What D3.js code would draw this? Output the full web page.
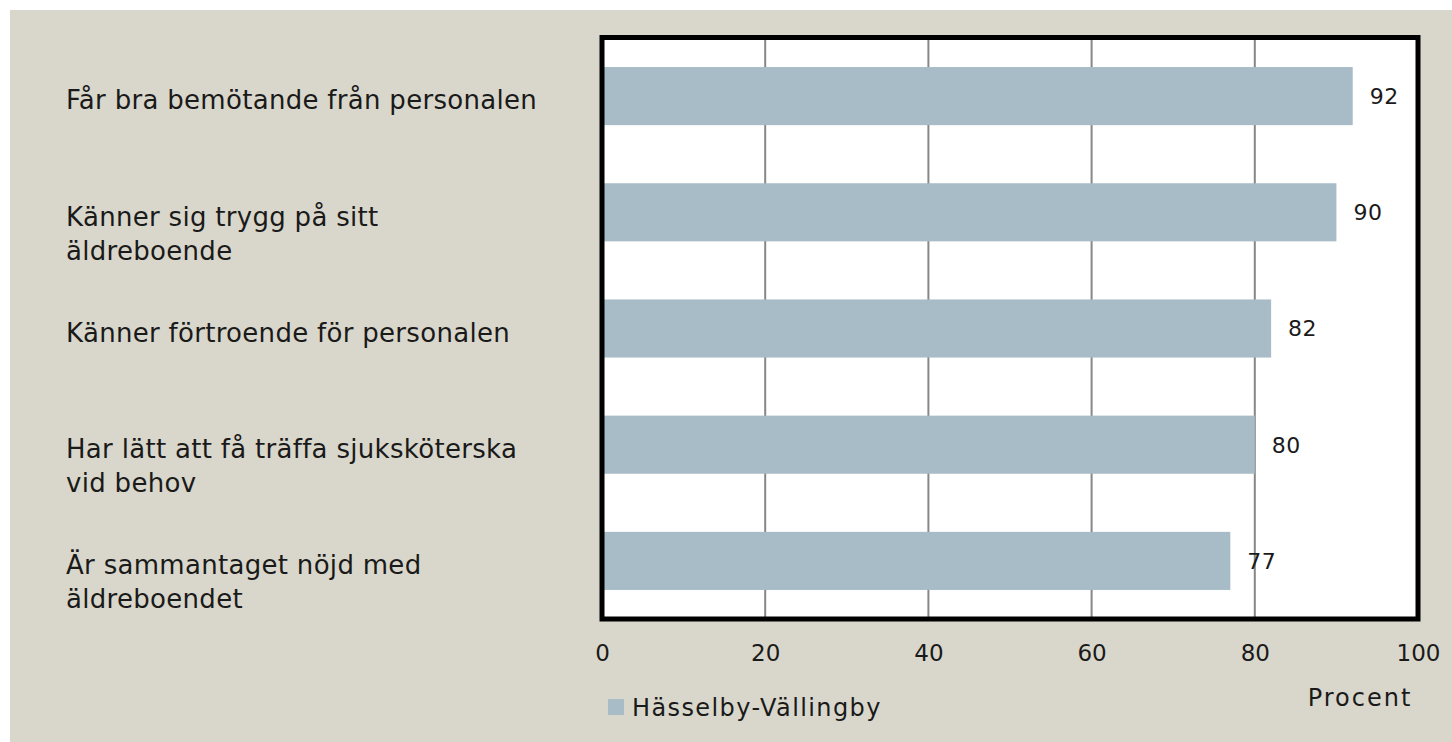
<!doctype html>
<html>
<head>
<meta charset="utf-8">
<script src="https://cdn.jsdelivr.net/npm/d3@7"></script>
<style>
  html, body { margin: 0; padding: 0; background: #fff; }
  svg { display: block; font-family: "DejaVu Sans", sans-serif; }
</style>
</head>
<body>
<script>
// data
const categories = [
  ["Får bra bemötande från personalen"],
  ["Känner sig trygg på sitt", "äldreboende"],
  ["Känner förtroende för personalen"],
  ["Har lätt att få träffa sjuksköterska", "vid behov"],
  ["Är sammantaget nöjd med", "äldreboendet"]
]
const values = [92, 90, 82, 80, 77]
const xTicks = [0, 20, 40, 60, 80, 100]
const seriesName = "Hässelby-Vällingby"
const axisTitle = "Procent"

const W = 1452, H = 742
const plot = { left: 602, top: 38, right: 1418, bottom: 619 }
const BAR = '#a7bcc7'
const TEXT = '#1a1a1a'
const FS = 22

const svg = d3.select('body').append('svg')
  .attr('width', W).attr('height', H)

// panel background
svg.append('rect')
  .attr('x', 10).attr('y', 10)
  .attr('width', W - 10).attr('height', H - 10)
  .attr('fill', '#d9d7cb')

const x = d3.scaleLinear().domain([0, 100]).range([plot.left, plot.right])
const y = d3.scaleBand().domain(d3.range(values.length))
  .range([plot.top, plot.bottom]).paddingInner(0.5).paddingOuter(0.25)

// plot area
svg.append('rect')
  .attr('x', plot.left).attr('y', plot.top)
  .attr('width', plot.right - plot.left).attr('height', plot.bottom - plot.top)
  .attr('fill', '#fff')

// gridlines
svg.append('g').selectAll('line')
  .data(xTicks.slice(1, -1))
  .join('line')
  .attr('x1', d => x(d)).attr('x2', d => x(d))
  .attr('y1', plot.top).attr('y2', plot.bottom)
  .attr('stroke', '#878787').attr('stroke-width', 2)

// bars
svg.append('g').selectAll('rect')
  .data(values)
  .join('rect')
  .attr('x', x(0))
  .attr('y', (d, i) => y(i))
  .attr('width', d => x(d) - x(0))
  .attr('height', y.bandwidth())
  .attr('fill', BAR)

// value labels
svg.append('g').selectAll('text')
  .data(values)
  .join('text')
  .attr('x', d => x(d) + 17)
  .attr('y', (d, i) => y(i) + y.bandwidth() / 2)
  .attr('dy', '0.36em')
  .attr('font-size', FS)
  .attr('letter-spacing', 0.5)
  .attr('fill', TEXT)
  .text(d => d)

// frame
svg.append('rect')
  .attr('x', plot.left).attr('y', plot.top - 0.5)
  .attr('width', plot.right - plot.left).attr('height', plot.bottom - plot.top + 0.5)
  .attr('fill', 'none')
  .attr('stroke', '#000').attr('stroke-width', 5)

// category labels
const cat = svg.append('g').selectAll('text')
  .data(categories)
  .join('text')
  .attr('x', 66)
  .attr('y', (d, i) => y(i) + y.bandwidth() / 2 + 4)
  .attr('font-size', 26)
  .attr('letter-spacing', 0.3)
  .attr('fill', TEXT)
cat.selectAll('tspan')
  .data(d => d)
  .join('tspan')
  .attr('x', 66)
  .attr('dy', (d, j) => j === 0 ? '0.36em' : 34)
  .text(d => d)

// x axis
const xAxis = svg.append('g')
  .attr('transform', `translate(0,${plot.bottom})`)
  .call(d3.axisBottom(x).tickValues(xTicks).tickSize(0).tickPadding(26))
xAxis.select('.domain').remove()
xAxis.selectAll('text')
  .attr('font-size', 23)
  .attr('font-family', '"DejaVu Sans", sans-serif')
  .attr('fill', TEXT)

svg.append('text')
  .attr('x', 1360).attr('y', 697)
  .attr('dy', '0.36em')
  .attr('text-anchor', 'middle')
  .attr('font-size', 24)
  .attr('letter-spacing', 2)
  .attr('fill', TEXT)
  .text(axisTitle)

// legend
svg.append('rect')
  .attr('x', 608).attr('y', 699)
  .attr('width', 16).attr('height', 16)
  .attr('fill', BAR)
svg.append('text')
  .attr('x', 632).attr('y', 707)
  .attr('dy', '0.36em')
  .attr('font-size', 24)
  .attr('letter-spacing', 1.4)
  .attr('fill', TEXT)
  .text(seriesName)
</script>
</body>
</html>
